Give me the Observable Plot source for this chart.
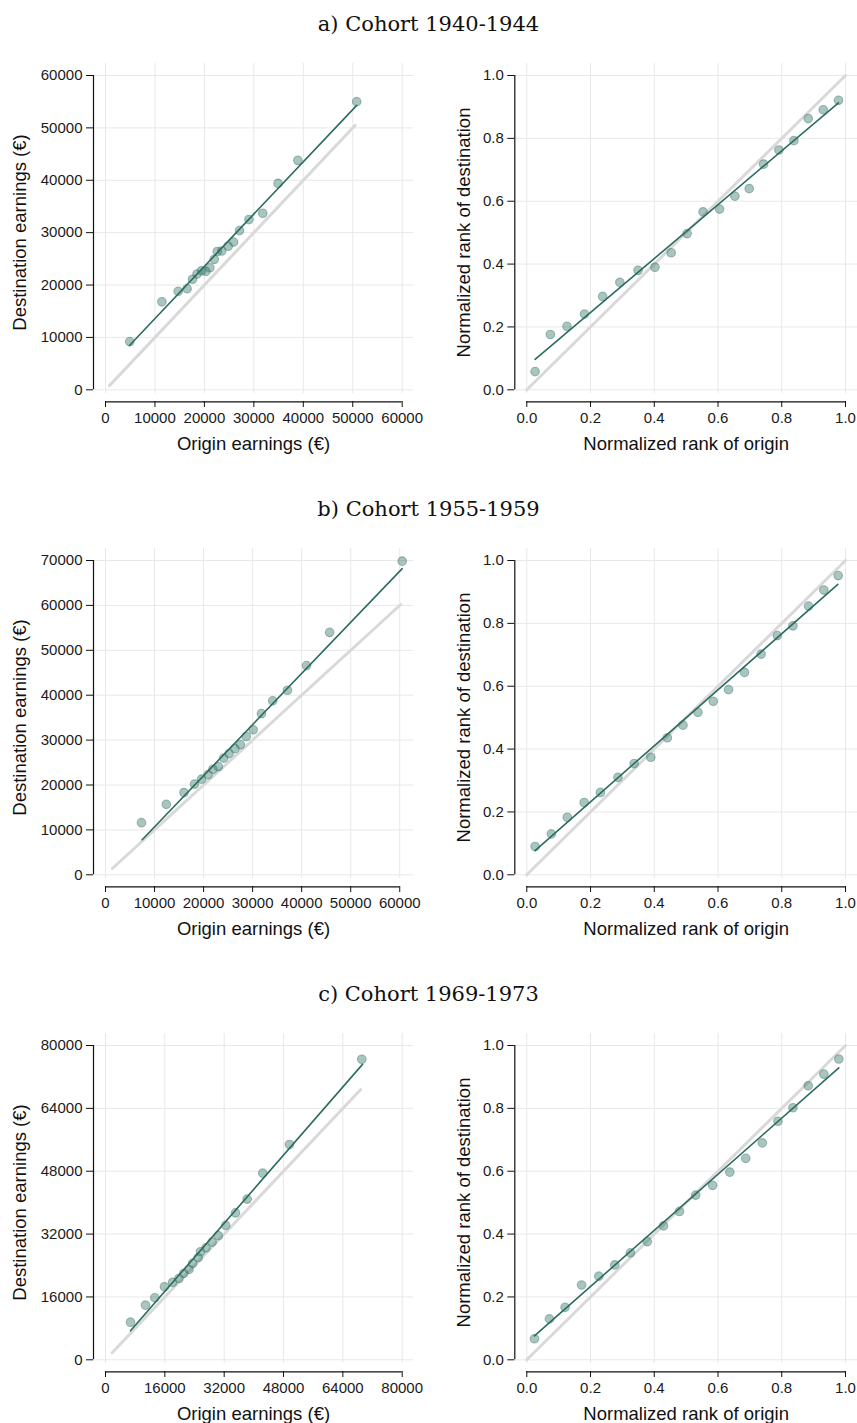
<!DOCTYPE html>
<html><head><meta charset="utf-8">
<script src="https://cdn.jsdelivr.net/npm/d3@7"></script>
<script src="https://cdn.jsdelivr.net/npm/@observablehq/plot@0.6"></script>
<style>
body{margin:0;background:#fff;}
#root{position:relative;width:857px;height:1423px;overflow:hidden;background:#fff;}
.title{position:absolute;left:0;width:857px;text-align:center;font-family:"DejaVu Serif",serif;font-size:21px;line-height:21px;color:#111;}
.panel{position:absolute;}
</style></head><body><div id="root"></div>
<script>
// ---------- data ----------
const cohortTitles = ["a) Cohort 1940-1944", "b) Cohort 1955-1959", "c) Cohort 1969-1973"];
const earnXLabel = "Origin earnings (€)";
const earnYLabel = "Destination earnings (€)";
const rankXLabel = "Normalized rank of origin";
const rankYLabel = "Normalized rank of destination";

// Cohort 1940-1944
const originA = [4900, 11400, 14700, 16500, 17600, 18500, 19400, 20300, 21100, 22000, 22600, 23500, 24800, 25900, 27100, 29000, 31800, 34900, 38900, 50800];
const destA   = [9200, 16800, 18800, 19300, 21100, 22100, 22700, 22600, 23300, 24900, 26400, 26500, 27400, 28200, 30400, 32500, 33700, 39400, 43800, 55000];
const rankOriginA = [0.026, 0.074, 0.126, 0.181, 0.238, 0.292, 0.349, 0.402, 0.453, 0.503, 0.553, 0.605, 0.653, 0.698, 0.743, 0.791, 0.838, 0.883, 0.930, 0.978];
const rankDestA   = [0.058, 0.176, 0.202, 0.241, 0.297, 0.342, 0.380, 0.390, 0.436, 0.497, 0.566, 0.575, 0.616, 0.640, 0.718, 0.763, 0.793, 0.863, 0.891, 0.921];
const fitEarnA = {x: [4850, 50800], y: [8460, 54300]};
const fitRankA = {x: [0.026, 0.978], y: [0.097, 0.913]};
const diagEarnA = [800, 50500];

// Cohort 1955-1959
const originB = [7340, 12400, 16000, 18150, 19600, 20900, 21900, 23000, 24100, 25200, 26400, 27500, 28700, 30100, 31800, 34100, 37100, 41000, 45700, 60500];
const destB   = [11600, 15700, 18300, 20200, 21300, 22300, 23500, 24100, 26000, 27000, 28100, 29000, 30800, 32300, 35900, 38750, 41100, 46600, 54000, 69850];
const rankOriginB = [0.026, 0.077, 0.127, 0.180, 0.231, 0.286, 0.337, 0.389, 0.441, 0.490, 0.537, 0.585, 0.633, 0.683, 0.735, 0.786, 0.835, 0.884, 0.932, 0.977];
const rankDestB   = [0.090, 0.130, 0.183, 0.230, 0.262, 0.310, 0.354, 0.374, 0.436, 0.476, 0.517, 0.552, 0.589, 0.644, 0.702, 0.761, 0.792, 0.855, 0.906, 0.952];
const fitEarnB = {x: [7480, 60500], y: [7800, 68200]};
const fitRankB = {x: [0.026, 0.976], y: [0.077, 0.924]};
const diagEarnB = [1400, 60200];

// Cohort 1969-1973
const originC = [6740, 10780, 13300, 15900, 18100, 19800, 21100, 22500, 23500, 25000, 25600, 27100, 28750, 30400, 32400, 35050, 38200, 42400, 49600, 69100];
const destC   = [9570, 13900, 15800, 18600, 19700, 20700, 22000, 23000, 24550, 26000, 27500, 28500, 29970, 31600, 34200, 37400, 40900, 47500, 54800, 76500];
const rankOriginC = [0.024, 0.071, 0.120, 0.172, 0.226, 0.276, 0.325, 0.378, 0.429, 0.479, 0.530, 0.583, 0.637, 0.687, 0.739, 0.788, 0.835, 0.883, 0.932, 0.979];
const rankDestC   = [0.067, 0.130, 0.167, 0.238, 0.266, 0.302, 0.340, 0.376, 0.426, 0.472, 0.524, 0.555, 0.597, 0.641, 0.690, 0.759, 0.802, 0.872, 0.909, 0.957];
const fitEarnC = {x: [6740, 69300], y: [7370, 75200]};
const fitRankC = {x: [0.024, 0.979], y: [0.076, 0.929]};
const diagEarnC = [1800, 68750];

// tick labels
const ticksA = [0, 10000, 20000, 30000, 40000, 50000, 60000];
const ticksBx = [0, 10000, 20000, 30000, 40000, 50000, 60000];
const ticksBy = [0, 10000, 20000, 30000, 40000, 50000, 60000, 70000];
const ticksC = [0, 16000, 32000, 48000, 64000, 80000];
const rankTicks = [0, 0.2, 0.4, 0.6, 0.8, 1.0];
const diagRank = [0, 1];

// ---------- style ----------
const C_POINT = "#2a6e5f";
const C_FIT = "#2b6b60";
const C_DIAG = "#d9d9d9";
const C_GRID = "#e8e8e8";
const FONT = "Liberation Sans, Arial, sans-serif";

const rows = [
  {title: cohortTitles[0], ox: originA, dy: destA, rox: rankOriginA, rdy: rankDestA, fe: fitEarnA, fr: fitRankA, de: diagEarnA, tx: ticksA, ty: ticksA},
  {title: cohortTitles[1], ox: originB, dy: destB, rox: rankOriginB, rdy: rankDestB, fe: fitEarnB, fr: fitRankB, de: diagEarnB, tx: ticksBx, ty: ticksBy},
  {title: cohortTitles[2], ox: originC, dy: destC, rox: rankOriginC, rdy: rankDestC, fe: fitEarnC, fr: fitRankC, de: diagEarnC, tx: ticksC, ty: ticksC}
];

const H = 440, TOP = 18, BOT = 84;

function panel({xs, ys, fit, diag, tx, ty, xLabel, yLabel, width, marginLeft, marginRight, xRange, fmt, yLabelDx}) {
  const pts = xs.map((x, i) => ({x, y: ys[i]}));
  const fitPts = fit.x.map((x, i) => ({x, y: fit.y[i]}));
  const xMax = Math.max(d3.max(xs), tx[tx.length - 1]);
  const yMax = Math.max(d3.max(ys), ty[ty.length - 1]);
  return Plot.plot({
    width, height: H,
    marginLeft, marginRight, marginTop: TOP, marginBottom: BOT,
    style: {fontFamily: FONT, fontSize: "15px", color: "#1a1a1a", background: "white", overflow: "visible"},
    x: {domain: [0, xMax], range: xRange},
    y: {domain: [0, yMax], range: [344.3, 30]},
    marks: [
      Plot.ruleX(tx, {stroke: C_GRID, strokeWidth: 1, insetBottom: 8}),
      Plot.ruleY(ty, {stroke: C_GRID, strokeWidth: 1}),
      Plot.line(diag, {x: d => d, y: d => d, stroke: C_DIAG, strokeWidth: 3}),
      Plot.line(fitPts, {x: "x", y: "y", stroke: C_FIT, strokeWidth: 1.6}),
      Plot.dot(pts, {x: "x", y: "y", r: 4.3, fill: C_POINT, fillOpacity: 0.4, stroke: C_POINT, strokeOpacity: 0.42, strokeWidth: 1.1}),
      Plot.ruleY([0], {x1: 0, x2: tx[tx.length - 1], dy: 12, stroke: "#111", strokeWidth: 1.2}),
      Plot.ruleX([0], {y1: 0, y2: ty[ty.length - 1], dx: -12, stroke: "#111", strokeWidth: 1.2}),
      Plot.axisX(tx, {anchor: "bottom", tickSize: 6, tickPadding: 5, tickFormat: fmt, label: null, fontSize: 15, stroke: "#111", fill: "#1a1a1a"}),
      Plot.axisY(ty, {anchor: "left", tickSize: 7, tickPadding: 4, tickFormat: fmt, label: null, fontSize: 15, stroke: "#111", fill: "#1a1a1a"}),
      Plot.text([xLabel], {frameAnchor: "bottom", textAnchor: "middle", lineAnchor: "bottom", dy: 48, fontSize: 18.5, fill: "#111", text: d => d}),
      Plot.text([yLabel], {frameAnchor: "left", textAnchor: "middle", lineAnchor: "bottom", rotate: -90, dx: yLabelDx, fontSize: 18.5, fill: "#111", text: d => d})
    ]
  });
}

const root = document.getElementById("root");
rows.forEach((r, i) => {
  const rowTop = i * 485;
  const t = document.createElement("div");
  t.className = "title";
  t.style.top = (rowTop + 14) + "px";
  t.textContent = r.title;
  root.appendChild(t);

  const left = panel({xs: r.ox, ys: r.dy, fit: r.fe, diag: r.de, tx: r.tx, ty: r.ty,
    xLabel: earnXLabel, yLabel: earnYLabel, width: 428, marginLeft: 93, marginRight: 15,
    xRange: [105, 401.7], fmt: "d", yLabelDx: -68});
  left.classList.add("panel");
  left.style.left = "0px"; left.style.top = (rowTop + 45) + "px";
  root.appendChild(left);

  const right = panel({xs: r.rox, ys: r.rdy, fit: r.fr, diag: diagRank, tx: rankTicks, ty: rankTicks,
    xLabel: rankXLabel, yLabel: rankYLabel, width: 429, marginLeft: 86.3, marginRight: 0,
    xRange: [98.3, 417], fmt: ".1f", yLabelDx: -45});
  right.classList.add("panel");
  right.style.left = "428px"; right.style.top = (rowTop + 45) + "px";
  root.appendChild(right);
});
</script>
</body></html>
